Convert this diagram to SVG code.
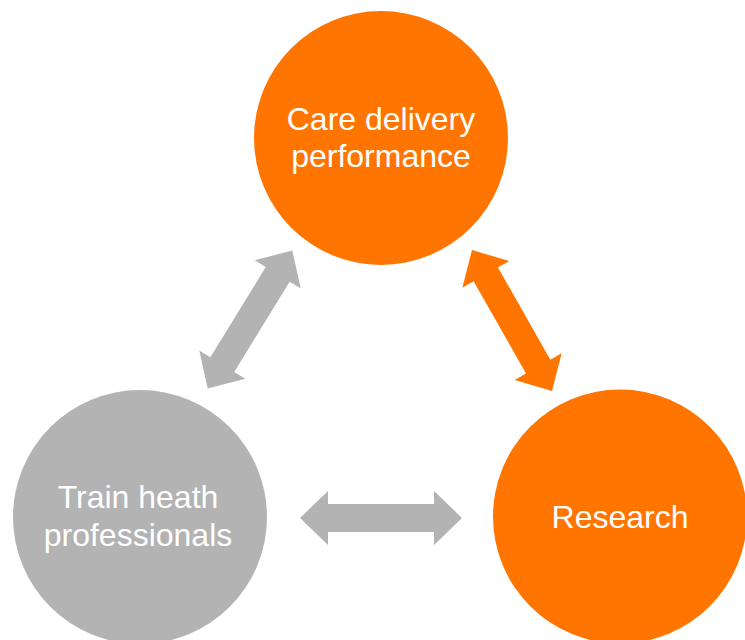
<svg xmlns="http://www.w3.org/2000/svg" width="745" height="640" viewBox="0 0 745 640">
  <defs>
    <path id="dbl" d="M -81 0 L -53 -27 L -53 -14 L 53 -14 L 53 -27 L 81 0 L 53 27 L 53 14 L -53 14 L -53 27 Z"/>
  </defs>
  <style>
    .orange { fill: #FF7500; }
    .gray { fill: #B3B3B3; }
    .lbl { fill: #FFFFFF; font-family: "Liberation Sans", Arial, sans-serif; font-size: 32px; text-anchor: middle; }
  </style>
  <rect width="745" height="640" fill="#FFFFFF"/>
  <g id="connectors">
    <use href="#dbl" class="gray" transform="translate(250,319.5) rotate(-58.5)"/>
    <use href="#dbl" class="orange" transform="translate(512,320.5) rotate(60.4)"/>
    <use href="#dbl" class="gray" transform="translate(381,518)"/>
  </g>
  <g id="care">
    <circle class="orange" cx="381" cy="138" r="127"/>
    <text class="lbl" x="381" y="130">Care delivery</text>
    <text class="lbl" x="381" y="167">performance</text>
  </g>
  <g id="train">
    <circle class="gray" cx="140" cy="517" r="127"/>
    <text class="lbl" x="138" y="508">Train heath</text>
    <text class="lbl" x="138" y="546">professionals</text>
  </g>
  <g id="research">
    <circle class="orange" cx="620" cy="516.5" r="127"/>
    <text class="lbl" x="620" y="528">Research</text>
  </g>
</svg>
